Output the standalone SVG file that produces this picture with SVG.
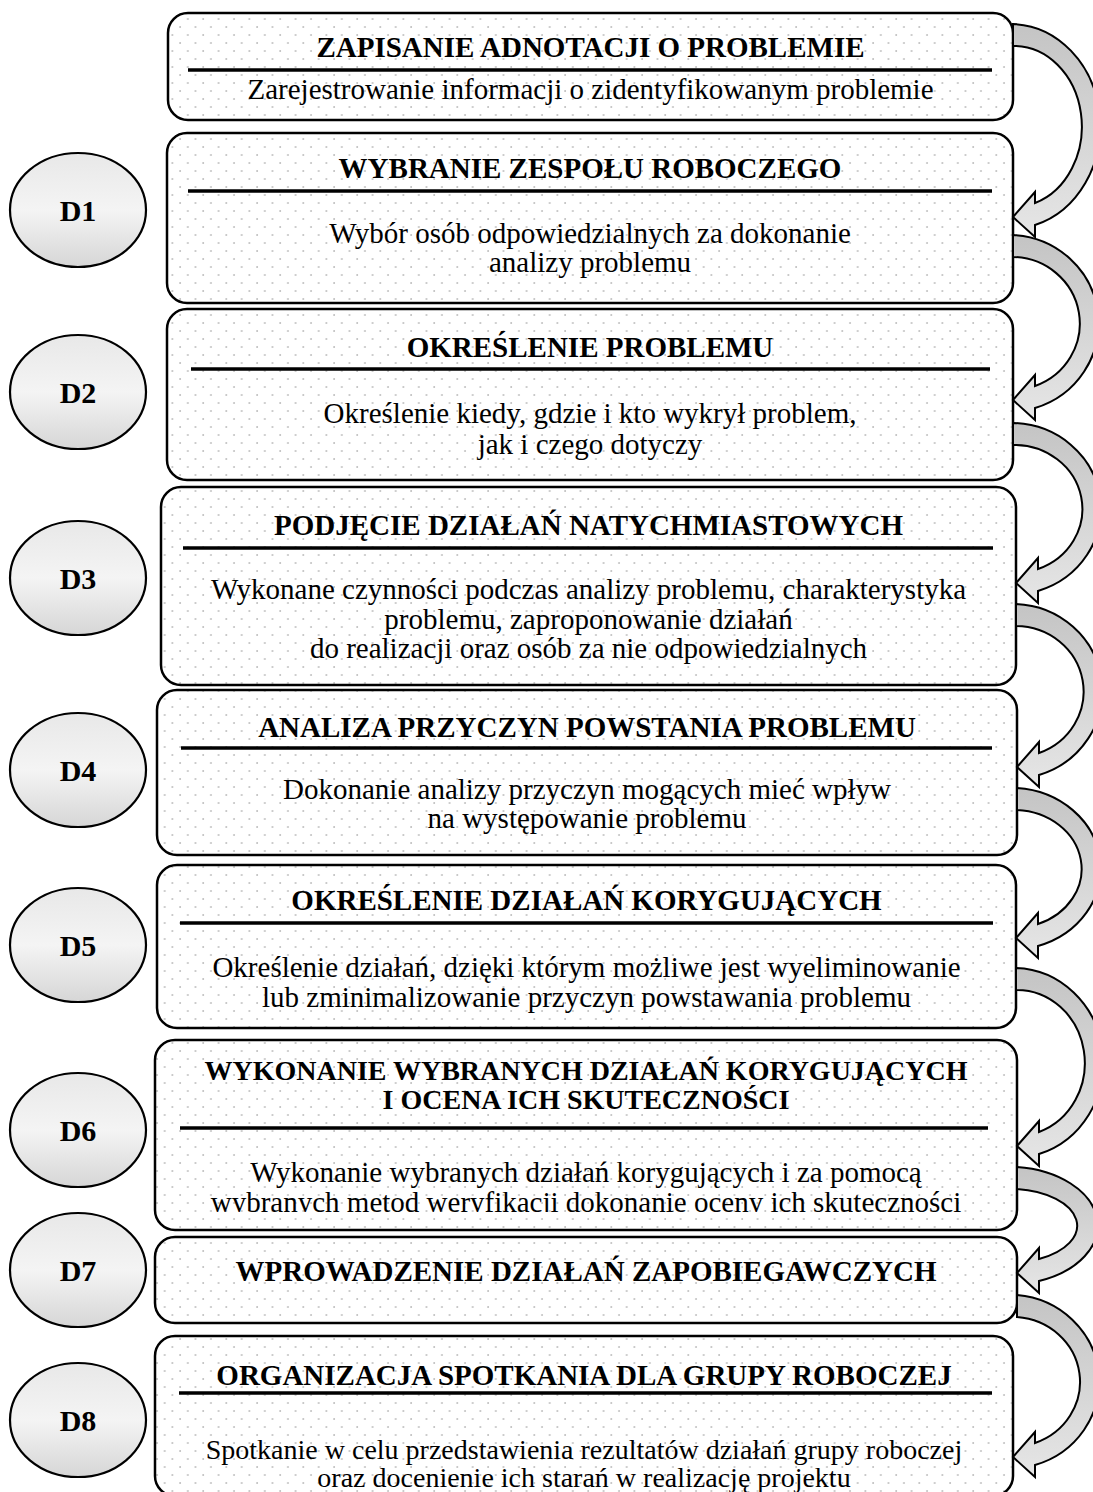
<svg xmlns="http://www.w3.org/2000/svg" width="1093" height="1492" viewBox="0 0 1093 1492">
<defs>
<pattern id="dots" width="15.4" height="16" patternUnits="userSpaceOnUse">
<rect width="15.4" height="16" fill="#ffffff"/>
<circle cx="3" cy="3" r="0.9" fill="#b8b8b8"/>
<circle cx="10.7" cy="11" r="0.9" fill="#b8b8b8"/>
</pattern>
<linearGradient id="eg" x1="0" y1="0" x2="0" y2="1">
<stop offset="0" stop-color="#e8e8e8"/>
<stop offset="0.5" stop-color="#f4f4f4"/>
<stop offset="1" stop-color="#d6d6d6"/>
</linearGradient>
<linearGradient id="ag" x1="0" y1="0" x2="0" y2="1">
<stop offset="0" stop-color="#c4c4c4"/>
<stop offset="1" stop-color="#e6e6e6"/>
</linearGradient>
<clipPath id="clip6" clipPathUnits="userSpaceOnUse"><rect x="0" y="1150" width="1093" height="62"/></clipPath>
</defs>
<style>
.box{fill:url(#dots);stroke:#000;stroke-width:2.5}
.sep{stroke:#000;stroke-width:3.5}
.ell{fill:url(#eg);stroke:#000;stroke-width:2.2}
.arr{fill:url(#ag);stroke:#000;stroke-width:2;stroke-linejoin:miter}
.t{font-family:"Liberation Serif","Times New Roman",serif;font-weight:bold;font-size:29px;text-anchor:middle;fill:#000}
.t6{font-size:28px}
.b{font-family:"Liberation Serif","Times New Roman",serif;font-size:29px;text-anchor:middle;fill:#000}
.b8{font-size:28px}
.d{font-family:"Liberation Serif","Times New Roman",serif;font-weight:bold;font-size:30px;text-anchor:middle;fill:#000}
</style>
<rect width="1093" height="1492" fill="#ffffff"/>

<g id="n0">
<rect class="box" x="168" y="13" width="845" height="107" rx="20"/>
<line class="sep" x1="188" y1="70" x2="992" y2="70"/>
<text class="t" x="590.5" y="57">ZAPISANIE ADNOTACJI O PROBLEMIE</text>
<text class="b" x="590.5" y="99">Zarejestrowanie informacji o zidentyfikowanym problemie</text>
</g>

<g id="n1">
<rect class="box" x="167" y="133" width="846" height="170" rx="20"/>
<line class="sep" x1="188" y1="191" x2="992" y2="191"/>
<text class="t" x="590" y="178">WYBRANIE ZESPOŁU ROBOCZEGO</text>
<text class="b" x="590" y="243">Wybór osób odpowiedzialnych za dokonanie</text>
<text class="b" x="590" y="272">analizy problemu</text>
</g>

<g id="n2">
<rect class="box" x="167" y="309" width="846" height="171" rx="20"/>
<line class="sep" x1="191" y1="369" x2="990" y2="369"/>
<text class="t" x="590" y="357">OKREŚLENIE PROBLEMU</text>
<text class="b" x="590" y="423">Określenie kiedy, gdzie i kto wykrył problem,</text>
<text class="b" x="590" y="454">jak i czego dotyczy</text>
</g>

<g id="n3">
<rect class="box" x="161" y="487" width="855" height="198" rx="20"/>
<line class="sep" x1="183" y1="548" x2="993" y2="548"/>
<text class="t" x="588.5" y="535">PODJĘCIE DZIAŁAŃ NATYCHMIASTOWYCH</text>
<text class="b" x="588.5" y="599">Wykonane czynności podczas analizy problemu, charakterystyka</text>
<text class="b" x="588.5" y="629">problemu, zaproponowanie działań</text>
<text class="b" x="588.5" y="658">do realizacji oraz osób za nie odpowiedzialnych</text>
</g>

<g id="n4">
<rect class="box" x="157" y="690" width="860" height="165" rx="20"/>
<line class="sep" x1="181" y1="748" x2="992" y2="748"/>
<text class="t" x="587" y="737">ANALIZA PRZYCZYN POWSTANIA PROBLEMU</text>
<text class="b" x="587" y="799">Dokonanie analizy przyczyn mogących mieć wpływ</text>
<text class="b" x="587" y="828">na występowanie problemu</text>
</g>

<g id="n5">
<rect class="box" x="157" y="865" width="859" height="163" rx="20"/>
<line class="sep" x1="180" y1="923" x2="993" y2="923"/>
<text class="t" x="586.5" y="910">OKREŚLENIE DZIAŁAŃ KORYGUJĄCYCH</text>
<text class="b" x="586.5" y="977">Określenie działań, dzięki którym możliwe jest wyeliminowanie</text>
<text class="b" x="586.5" y="1007">lub zminimalizowanie przyczyn powstawania problemu</text>
</g>

<g id="n6">
<rect class="box" x="155" y="1040" width="862" height="190" rx="20"/>
<line class="sep" x1="180" y1="1128" x2="988" y2="1128"/>
<text class="t t6" x="586" y="1080">WYKONANIE WYBRANYCH DZIAŁAŃ KORYGUJĄCYCH</text>
<text class="t t6" x="586" y="1109">I OCENA ICH SKUTECZNOŚCI</text>
<text class="b" x="586" y="1182">Wykonanie wybranych działań korygujących i za pomocą</text>
<text class="b" x="586" y="1212" clip-path="url(#clip6)">wybranych metod weryfikacji dokonanie oceny ich skuteczności</text>
</g>

<g id="n7">
<rect class="box" x="155" y="1237" width="862" height="86" rx="20"/>
<text class="t" x="586" y="1281">WPROWADZENIE DZIAŁAŃ ZAPOBIEGAWCZYCH</text>
</g>

<g id="n8">
<rect class="box" x="155" y="1336" width="858" height="160" rx="20"/>
<line class="sep" x1="179" y1="1393" x2="992" y2="1393"/>
<text class="t" x="584" y="1385">ORGANIZACJA SPOTKANIA DLA GRUPY ROBOCZEJ</text>
<text class="b b8" x="584" y="1459">Spotkanie w celu przedstawienia rezultatów działań grupy roboczej</text>
<text class="b b8" x="584" y="1487">oraz docenienie ich starań w realizację projektu</text>
</g>

<g id="d1"><ellipse class="ell" cx="78" cy="210" rx="68" ry="57"/><text class="d" x="78" y="221">D1</text></g>
<g id="d2"><ellipse class="ell" cx="78" cy="392" rx="68" ry="57"/><text class="d" x="78" y="403">D2</text></g>
<g id="d3"><ellipse class="ell" cx="78" cy="578" rx="68" ry="57"/><text class="d" x="78" y="589">D3</text></g>
<g id="d4"><ellipse class="ell" cx="78" cy="770" rx="68" ry="57"/><text class="d" x="78" y="781">D4</text></g>
<g id="d5"><ellipse class="ell" cx="78" cy="945" rx="68" ry="57"/><text class="d" x="78" y="956">D5</text></g>
<g id="d6"><ellipse class="ell" cx="78" cy="1130" rx="68" ry="57"/><text class="d" x="78" y="1141">D6</text></g>
<g id="d7"><ellipse class="ell" cx="78" cy="1270" rx="68" ry="57"/><text class="d" x="78" y="1281">D7</text></g>
<g id="d8"><ellipse class="ell" cx="78" cy="1420" rx="68" ry="57"/><text class="d" x="78" y="1431">D8</text></g>

<g id="connectors">
<path class="arr" d="M1013,24 A90,102.5 0 0 1 1035,225 L1035,237 L1013,217 L1035,192 L1035,203 A68,80.5 0 0 0 1013,46 Z"/>
<path class="arr" d="M1013,235 A90,88.5 0 0 1 1035,408 L1035,420 L1013,400 L1035,375 L1035,386 A68,66.5 0 0 0 1013,257 Z"/>
<path class="arr" d="M1013,423 A90,86 0 0 1 1038,591 L1038,603 L1016,583 L1038,558 L1038,569 A68,64 0 0 0 1013,445 Z"/>
<path class="arr" d="M1016,604 A90,87.5 0 0 1 1039,775 L1039,787 L1017,767 L1039,742 L1039,753 A68,65.5 0 0 0 1016,626 Z"/>
<path class="arr" d="M1017,788 A90,81 0 0 1 1038,946 L1038,958 L1016,938 L1038,913 L1038,924 A68,59 0 0 0 1017,810 Z"/>
<path class="arr" d="M1016,968 A90,95 0 0 1 1039,1154 L1039,1166 L1017,1146 L1039,1121 L1039,1132 A68,73 0 0 0 1016,990 Z"/>
<path class="arr" d="M1017,1167 A90,59 0 0 1 1039,1281 L1039,1293 L1017,1273 L1039,1248 L1039,1259 A68,37 0 0 0 1017,1189 Z"/>
<path class="arr" d="M1017,1295 A90,87 0 0 1 1035,1465 L1035,1477 L1013,1457 L1035,1432 L1035,1443 A68,65 0 0 0 1017,1317 Z"/>
</g>
</svg>
